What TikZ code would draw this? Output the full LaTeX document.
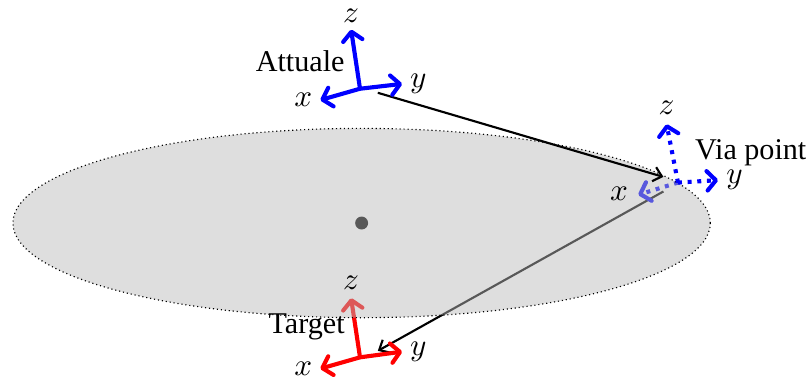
\documentclass[tikz,border=0pt]{standalone}
\usepackage{fontspec}
\setmainfont{Liberation Serif}
\usetikzlibrary{arrows.meta}

\begin{document}
\begin{tikzpicture}[font=\fontsize{10.6}{12}\selectfont,axis/.style={-{Straight Barb[length=1.1mm,width=2.4mm,round]},line width=1.45pt},viaaxis/.style={axis,dash pattern=on 1.4pt off 2pt},link/.style={-{Straight Barb[length=1mm,width=1.8mm]},line width=0.75pt},lab/.style={inner sep=0pt}]
\useasboundingbox (0,0) rectangle (10,4.697);
\coordinate (attO) at (4.45,3.60);\coordinate (attZ) at (4.34,4.33);\coordinate (attY) at (4.97,3.66);\coordinate (attX) at (3.96,3.46);
\coordinate (viaO) at (8.38,2.44);\coordinate (viaZ) at (8.24,3.16);\coordinate (viaY) at (8.875,2.47);\coordinate (viaX) at (7.89,2.29);
\coordinate (tarO) at (4.45,0.28);\coordinate (tarZ) at (4.34,1.01);\coordinate (tarY) at (4.97,0.35);\coordinate (tarX) at (3.96,0.14);
\coordinate (startP) at (4.67,3.55);\coordinate (viaIn) at (8.2,2.51);\coordinate (viaOut) at (8.2,2.33);\coordinate (endP) at (4.67,0.36);
% below the plane
\fill (4.47,1.94) circle (0.08);
\draw[link] (viaOut) -- (endP);
\draw[axis,red] (tarO) -- (tarZ);\draw[axis,red] (tarO) -- (tarY);\draw[axis,red] (tarO) -- (tarX);
\draw[viaaxis,blue] (viaO) -- (viaX);
% plane
\draw[densely dotted,line width=0.4pt,fill=black!27,fill opacity=0.48] (4.47,1.94) ellipse (4.31 and 1.17);
% above the plane
\draw[link] (startP) -- (viaIn);
\draw[axis,blue] (attO) -- (attZ);\draw[axis,blue] (attO) -- (attY);\draw[axis,blue] (attO) -- (attX);
\draw[viaaxis,blue] (viaO) -- (viaZ);\draw[viaaxis,blue] (viaO) -- (viaY);
\node[lab] (attz) at (4.34,4.50){\(z\)};\node[lab] (atty) at (5.17,3.66){\(y\)};\node[lab] (attx) at (3.75,3.46){\(x\)};
\node[lab] (attuale) at (3.71,3.94){Attuale};
\node[lab] (viaz) at (8.24,3.36){\(z\)};\node[lab] (viay) at (9.08,2.48){\(y\)};\node[lab] (viax) at (7.65,2.30){\(x\)};
\node[lab] (viapoint) at (9.28,2.81){Via point};
\node[lab] (tarz) at (4.34,1.20){\(z\)};\node[lab] (tary) at (5.17,0.35){\(y\)};\node[lab] (tarx) at (3.75,0.14){\(x\)};
\node[lab] (target) at (3.79,0.66){Target};
\end{tikzpicture}
\end{document}
